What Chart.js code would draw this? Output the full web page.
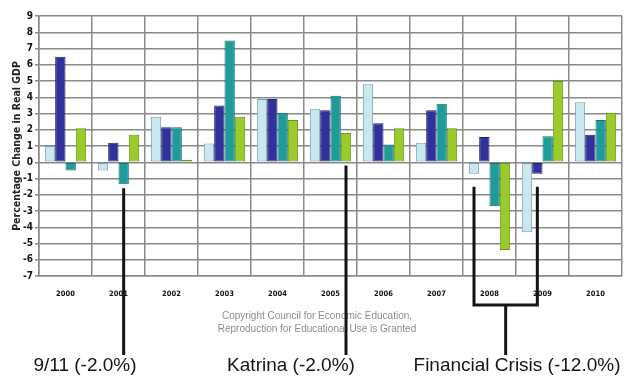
<!DOCTYPE html>
<html>
<head>
<meta charset="utf-8">
<title>Percentage Change in Real GDP, 2000-2010</title>
<script src="https://cdn.jsdelivr.net/npm/chart.js@4.4.1/dist/chart.umd.min.js"></script>
<style>
  html, body { margin: 0; padding: 0; background: #ffffff; }
  #wrap { width: 628px; height: 376px; position: relative; }
</style>
</head>
<body>
<div id="wrap"><canvas id="gdp" width="628" height="376"></canvas></div>
<script>
// Years on the category axis
const years = ['2000', '2001', '2002', '2003', '2004', '2005', '2006', '2007', '2008', '2009', '2010'];

// Quarterly percentage change in real GDP, one array per quarter
const q1 = [1.0, -0.5, 2.8, 1.15, 3.9, 3.3, 4.8, 1.2, -0.7, -4.3, 3.7];
const q2 = [6.5, 1.2, 2.15, 3.5, 3.9, 3.2, 2.4, 3.2, 1.55, -0.7, 1.7];
const q3 = [-0.5, -1.35, 2.15, 7.5, 3.05, 4.1, 1.1, 3.6, -2.7, 1.6, 2.6];
const q4 = [2.1, 1.7, 0.15, 2.8, 2.6, 1.8, 2.1, 2.1, -5.4, 5.0, 3.05];

// Value-axis range
const yMin = -7;
const yMax = 9;

// Event call-outs: which bar each leader line hangs from
const events = [
  { text: '9/11 (-2.0%)', dataset: 2, year: '2001', from: -1.6, textX: 85 },
  { text: 'Katrina (-2.0%)', dataset: 3, year: '2005', from: -0.2, textX: 291 }
];
const crisis = {
  text: 'Financial Crisis (-12.0%)',
  left: { dataset: 0, year: '2008' },
  right: { dataset: 1, year: '2009' },
  from: -1.5,
  textX: 517
};

const condensed = "'DejaVu Sans Condensed', 'Liberation Sans Narrow', sans-serif";

const calloutPlugin = {
  id: 'callouts',
  afterDraw(chart) {
    const ctx = chart.ctx;
    const y = chart.scales.y;
    const barX = (ds, year) => chart.getDatasetMeta(ds).data[years.indexOf(year)].x;
    const lineEnd = 355;
    const textBase = 371;

    ctx.save();
    // copyright notice
    ctx.fillStyle = '#8c8c8c';
    ctx.font = "10px 'Liberation Sans', Arial, sans-serif";
    ctx.textAlign = 'center';
    ctx.textBaseline = 'middle';
    ctx.fillText('Copyright Council for Economic Education,', 317, 316);
    ctx.fillText('Reproduction for Educational Use is Granted', 317, 329);

    // leader lines
    ctx.strokeStyle = '#141414';
    ctx.lineWidth = 3;
    ctx.lineCap = 'butt';
    events.forEach(ev => {
      const x = barX(ev.dataset, ev.year);
      ctx.beginPath();
      ctx.moveTo(x, y.getPixelForValue(ev.from));
      ctx.lineTo(x, lineEnd);
      ctx.stroke();
    });

    // bracket for the financial crisis
    const xl = barX(crisis.left.dataset, crisis.left.year);
    const xr = barX(crisis.right.dataset, crisis.right.year);
    const top = y.getPixelForValue(crisis.from);
    const bracketY = 305;
    ctx.beginPath();
    ctx.moveTo(xl, top);
    ctx.lineTo(xl, bracketY);
    ctx.lineTo(xr, bracketY);
    ctx.lineTo(xr, top);
    ctx.stroke();
    const xm = (xl + xr) / 2;
    ctx.beginPath();
    ctx.moveTo(xm, bracketY);
    ctx.lineTo(xm, lineEnd);
    ctx.stroke();

    // call-out labels
    ctx.fillStyle = '#151515';
    ctx.font = "19px 'Liberation Sans', Arial, sans-serif";
    ctx.textAlign = 'center';
    ctx.textBaseline = 'alphabetic';
    events.forEach(ev => ctx.fillText(ev.text, ev.textX, textBase));
    ctx.fillText(crisis.text, crisis.textX, textBase);
    ctx.restore();
  }
};

const series = [
  { label: 'Q1', data: q1, backgroundColor: '#c9e7ef', borderColor: '#7c9ea6' },
  { label: 'Q2', data: q2, backgroundColor: '#31319b', borderColor: '#202070' },
  { label: 'Q3', data: q3, backgroundColor: '#1f9b99', borderColor: '#14706e' },
  { label: 'Q4', data: q4, backgroundColor: '#9acb2a', borderColor: '#6a9418' }
];

new Chart(document.getElementById('gdp'), {
  type: 'bar',
  data: {
    labels: years,
    datasets: series.map(s => ({
      label: s.label,
      data: s.data,
      backgroundColor: s.backgroundColor,
      borderColor: s.borderColor,
      borderWidth: 1,
      borderSkipped: false,
      barPercentage: 1.0,
      categoryPercentage: 0.78
    }))
  },
  options: {
    responsive: false,
    animation: false,
    devicePixelRatio: 1,
    layout: { padding: { top: 16, right: 6, bottom: 0, left: 0 } },
    plugins: {
      legend: { display: false },
      tooltip: { enabled: false }
    },
    scales: {
      x: {
        grid: { color: '#8a8a8a', lineWidth: 1.5, drawTicks: false, offset: true },
        border: { color: '#8a8a8a', width: 1.5 },
        ticks: {
          color: '#111',
          padding: 14,
          maxRotation: 0,
          font: { family: condensed, size: 7.5, weight: 'bold' }
        },
        afterFit(scale) { scale.height = 100; }
      },
      y: {
        min: yMin,
        max: yMax,
        grid: { color: '#8a8a8a', lineWidth: 1.5, tickLength: 4 },
        border: { color: '#8a8a8a', width: 1.5 },
        ticks: {
          stepSize: 1,
          color: '#111',
          padding: 2,
          font: { family: condensed, size: 10, weight: 'bold' }
        },
        title: {
          display: true,
          text: 'Percentage Change in Real GDP',
          color: '#222',
          padding: { top: 11, bottom: 0 },
          font: { family: condensed, size: 10.5, weight: 'bold' }
        },
        afterFit(scale) { scale.width = 39; }
      }
    }
  },
  plugins: [calloutPlugin]
});
</script>
</body>
</html>
